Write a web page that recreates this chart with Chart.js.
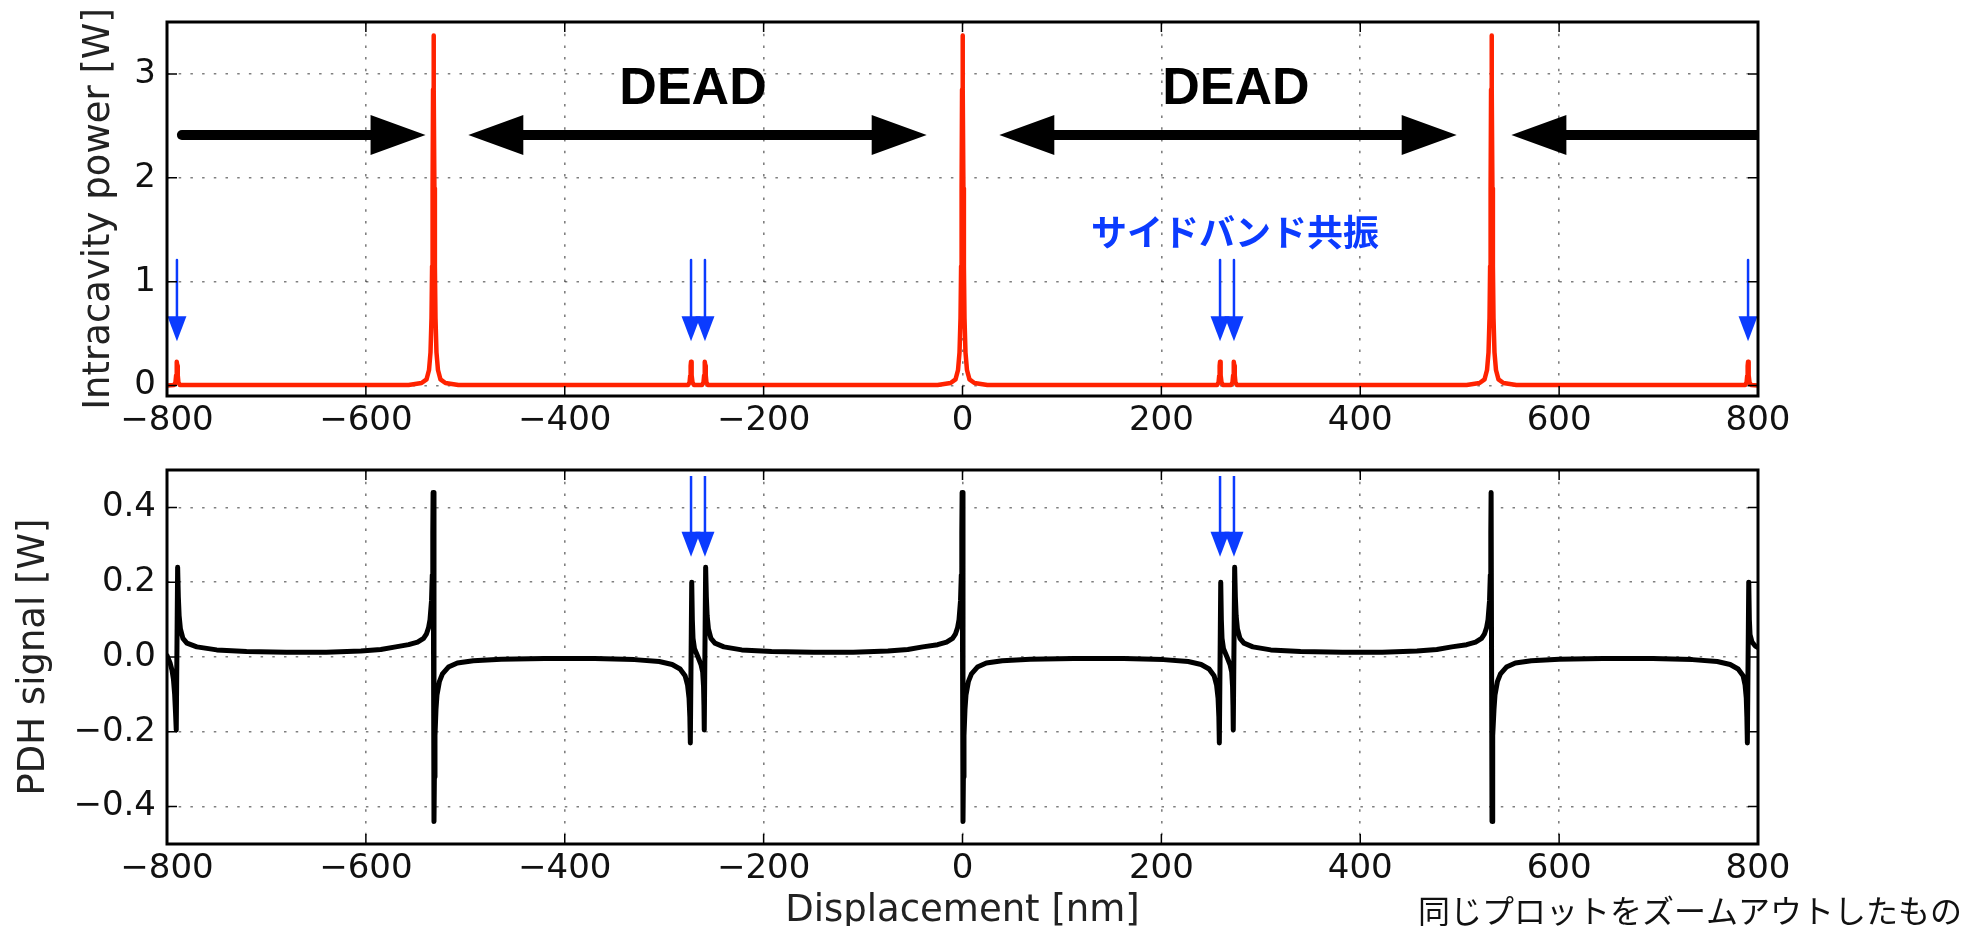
<!DOCTYPE html>
<html>
<head>
<meta charset="utf-8">
<script src="https://cdn.jsdelivr.net/npm/chart.js@4"></script>
<style>
  html, body { margin: 0; padding: 0; background: #fff; overflow: hidden; }
  body { width: 1969px; height: 926px; position: relative; }
  canvas { position: absolute; left: 0; }
  #powerChart { top: 0; }
  #pdhChart { top: 460px; }
</style>
</head>
<body>
<canvas id="powerChart" width="1969" height="460"></canvas>
<canvas id="pdhChart" width="1969" height="520"></canvas>
<script>
// axis ticks
const xTicks = [-800, -600, -400, -200, 0, 200, 400, 600, 800];
const xTickLabels = ['−800', '−600', '−400', '−200', '0', '200', '400', '600', '800'];
const powerTicks = [0, 1, 2, 3];
const powerTickLabels = ['0', '1', '2', '3'];
const pdhTicks = [-0.4, -0.2, 0, 0.2, 0.4];
const pdhTickLabels = ['−0.4', '−0.2', '0.0', '0.2', '0.4'];

// intracavity power [W] vs displacement [nm]
const powerCurve = [
  [-800, 0.002],
  [-793, 0.005], [-791.5, 0.03], [-790.8, 0.1], [-790.4, 0.19], [-790, 0.23], [-789.6, 0.19], [-789.2, 0.1], [-788.5, 0.03], [-787, 0.005],
  [-557, 0.006], [-544, 0.025], [-539, 0.06], [-536.5, 0.15], [-535, 0.32], [-534, 0.65], [-533.4, 1.15], [-532.9, 1.9], [-532.45, 2.85],
  [-532, 3.37],
  [-531.55, 2.85], [-531.1, 1.9], [-530.6, 1.15], [-530, 0.65], [-529, 0.32], [-527.5, 0.15], [-525, 0.06], [-520, 0.025], [-507, 0.006],
  [-276, 0.005], [-274.5, 0.03], [-273.8, 0.1], [-273.4, 0.19], [-273, 0.23], [-272.6, 0.19], [-272.2, 0.1], [-271.5, 0.03], [-270, 0.005],
  [-262, 0.005], [-260.5, 0.03], [-259.8, 0.1], [-259.4, 0.19], [-259, 0.23], [-258.6, 0.19], [-258.2, 0.1], [-257.5, 0.03], [-256, 0.005],
  [-25, 0.006], [-12, 0.025], [-7, 0.06], [-4.5, 0.15], [-3, 0.32], [-2, 0.65], [-1.4, 1.15], [-0.9, 1.9], [-0.45, 2.85],
  [0, 3.37],
  [0.45, 2.85], [0.9, 1.9], [1.4, 1.15], [2, 0.65], [3, 0.32], [4.5, 0.15], [7, 0.06], [12, 0.025], [25, 0.006],
  [256, 0.005], [257.5, 0.03], [258.2, 0.1], [258.6, 0.19], [259, 0.23], [259.4, 0.19], [259.8, 0.1], [260.5, 0.03], [262, 0.005],
  [270, 0.005], [271.5, 0.03], [272.2, 0.1], [272.6, 0.19], [273, 0.23], [273.4, 0.19], [273.8, 0.1], [274.5, 0.03], [276, 0.005],
  [507, 0.006], [520, 0.025], [525, 0.06], [527.5, 0.15], [529, 0.32], [530, 0.65], [530.6, 1.15], [531.1, 1.9], [531.55, 2.85],
  [532, 3.37],
  [532.45, 2.85], [532.9, 1.9], [533.4, 1.15], [534, 0.65], [535, 0.32], [536.5, 0.15], [539, 0.06], [544, 0.025], [557, 0.006],
  [787, 0.005], [788.5, 0.03], [789.2, 0.1], [789.6, 0.19], [790, 0.23], [790.4, 0.19], [790.8, 0.1], [791.5, 0.03], [793, 0.005],
  [800, 0.002]
];

// PDH error signal [W] vs displacement [nm]
const pdhCurve = [
  [-800, 0.004], [-797, -0.015], [-795, -0.035], [-793.5, -0.06], [-792.3, -0.1], [-791.4, -0.15], [-790.7, -0.195],
  [-789.3, 0.24], [-788.6, 0.16], [-787.8, 0.11], [-786.5, 0.075], [-784, 0.05], [-780, 0.037], [-770, 0.027], [-750, 0.019],
  [-720, 0.015], [-680, 0.013], [-640, 0.013], [-605, 0.016], [-585, 0.02], [-570, 0.027],
  [-557, 0.033], [-548, 0.04], [-542, 0.05], [-539, 0.062], [-537, 0.078], [-535.5, 0.1], [-534, 0.15], [-533.2, 0.22], [-532.7, 0.33], [-532.4, 0.44],
  [-531.5, -0.44], [-531.1, -0.32], [-530.5, -0.21], [-529.5, -0.14], [-528.5, -0.102], [-526, -0.065], [-523, -0.045], [-517, -0.027],
  [-508, -0.016], [-492, -0.01], [-464, -0.006], [-420, -0.004], [-370, -0.004], [-330, -0.007], [-305, -0.012], [-292, -0.02],
  [-284, -0.032], [-279, -0.05], [-276.5, -0.075], [-275, -0.11], [-274.2, -0.16], [-273.7, -0.23],
  [-272.3, 0.2], [-271.7, 0.1], [-271, 0.05], [-269.5, 0.022], [-266, 0.0], [-263, -0.02], [-261.3, -0.04], [-260.4, -0.08], [-260, -0.13], [-259.7, -0.195],
  [-258.3, 0.24], [-257.6, 0.16], [-256.8, 0.11], [-255.5, 0.075], [-253, 0.05], [-249, 0.037], [-240, 0.027], [-222, 0.019],
  [-192, 0.015], [-150, 0.013], [-110, 0.013], [-75, 0.016], [-55, 0.02], [-40, 0.027],
  [-25, 0.033], [-16, 0.04], [-10, 0.05], [-7, 0.062], [-5, 0.078], [-3.5, 0.1], [-2, 0.15], [-1.2, 0.22], [-0.7, 0.33], [-0.4, 0.44],
  [0.5, -0.44], [0.9, -0.32], [1.5, -0.21], [2.5, -0.14], [3.5, -0.102], [6, -0.065], [9, -0.045], [15, -0.027],
  [24, -0.016], [40, -0.01], [68, -0.006], [112, -0.004], [162, -0.004], [202, -0.007], [227, -0.012], [240, -0.02],
  [248, -0.032], [253, -0.05], [255.5, -0.075], [257, -0.11], [257.8, -0.16], [258.3, -0.23],
  [259.7, 0.2], [260.3, 0.1], [261, 0.05], [262.5, 0.022], [266, 0.0], [269, -0.02], [270.7, -0.04], [271.6, -0.08], [272, -0.13], [272.3, -0.195],
  [273.7, 0.24], [274.4, 0.16], [275.2, 0.11], [276.5, 0.075], [279, 0.05], [283, 0.037], [292, 0.027], [310, 0.019],
  [340, 0.015], [382, 0.013], [422, 0.013], [457, 0.016], [477, 0.02], [492, 0.027],
  [507, 0.033], [516, 0.04], [522, 0.05], [525, 0.062], [527, 0.078], [528.5, 0.1], [530, 0.15], [530.8, 0.22], [531.3, 0.33], [531.6, 0.44],
  [532.5, -0.44], [532.9, -0.32], [533.5, -0.21], [534.5, -0.14], [535.5, -0.102], [538, -0.065], [541, -0.045], [547, -0.027],
  [556, -0.016], [572, -0.01], [600, -0.006], [644, -0.004], [694, -0.004], [734, -0.007], [759, -0.012], [772, -0.02],
  [780, -0.032], [785, -0.05], [787, -0.075], [788.2, -0.11], [788.8, -0.16], [789.3, -0.23],
  [790.7, 0.2], [791.3, 0.1], [792, 0.06], [794, 0.04], [797, 0.03], [800, 0.025]
];

// annotation positions (data units)
const sidebandMarksPower = [-790, -273, -259, 259, 273, 790];
const sidebandMarksPdh = [-273, -259, 259, 273];
const captureArrows = [[-785, -540], [820, 552]];   // [tail, tip]
const deadArrows = [[-497, -36], [37, 497]];        // double headed
const deadLabelX = [-271, 275];

const FONT = 'DejaVu Sans';
const BLUE = '#0b3bff';
Chart.defaults.font.family = FONT;

function head(ctx, tx, ty, dx, dy, len, half) {
  // triangle with its tip at (tx, ty), pointing along (dx, dy)
  const bx = tx - dx * len, by = ty - dy * len;
  ctx.beginPath();
  ctx.moveTo(tx, ty);
  ctx.lineTo(bx - dy * half, by + dx * half);
  ctx.lineTo(bx + dy * half, by - dx * half);
  ctx.closePath();
  ctx.fill();
}

function clipArea(ctx, a) {
  ctx.beginPath();
  ctx.rect(a.left, a.top, a.right - a.left, a.bottom - a.top);
  ctx.clip();
}

function blueMarks(chart, xs, yFrom, yTip) {
  const {ctx, scales: {x, y}} = chart;
  const y0 = y.getPixelForValue(yFrom), y1 = y.getPixelForValue(yTip);
  ctx.strokeStyle = BLUE;
  ctx.fillStyle = BLUE;
  ctx.lineWidth = 2.5;
  xs.forEach(v => {
    const px = x.getPixelForValue(v);
    ctx.beginPath();
    ctx.moveTo(px, y0);
    ctx.lineTo(px, y1 - 20);
    ctx.stroke();
    head(ctx, px, y1, 0, 1, 25, 9.5);
  });
}

// box frame plus inward tick marks on all four sides
const framePlugin = {
  id: 'frame',
  afterDraw(chart) {
    const {ctx, chartArea: a, scales} = chart;
    ctx.save();
    ctx.strokeStyle = '#000';
    ctx.lineWidth = 1.5;
    ctx.beginPath();
    scales.x.ticks.forEach(t => {
      const px = scales.x.getPixelForValue(t.value);
      ctx.moveTo(px, a.bottom); ctx.lineTo(px, a.bottom - 10);
      ctx.moveTo(px, a.top); ctx.lineTo(px, a.top + 10);
    });
    scales.y.ticks.forEach(t => {
      const py = scales.y.getPixelForValue(t.value);
      ctx.moveTo(a.left, py); ctx.lineTo(a.left + 10, py);
      ctx.moveTo(a.right, py); ctx.lineTo(a.right - 10, py);
    });
    ctx.stroke();
    ctx.lineWidth = 3;
    ctx.strokeRect(a.left, a.top, a.right - a.left, a.bottom - a.top);
    ctx.restore();
  }
};

const powerNotes = {
  id: 'powerNotes',
  afterDatasetsDraw(chart) {
    const {ctx, chartArea: a, scales: {x, y}} = chart;
    ctx.save();
    clipArea(ctx, a);
    const ay = y.getPixelForValue(2.412);
    ctx.fillStyle = '#000';
    ctx.strokeStyle = '#000';
    ctx.lineWidth = 10;
    ctx.lineCap = 'round';
    captureArrows.forEach(([from, to]) => {
      const x0 = x.getPixelForValue(from), x1 = x.getPixelForValue(to);
      const dir = Math.sign(x1 - x0);
      ctx.beginPath();
      ctx.moveTo(x0, ay);
      ctx.lineTo(x1 - dir * 50, ay);
      ctx.stroke();
      head(ctx, x1, ay, dir, 0, 55, 20);
    });
    deadArrows.forEach(([from, to]) => {
      const x0 = x.getPixelForValue(from), x1 = x.getPixelForValue(to);
      ctx.beginPath();
      ctx.moveTo(x0 + 50, ay);
      ctx.lineTo(x1 - 50, ay);
      ctx.stroke();
      head(ctx, x0, ay, -1, 0, 55, 20);
      head(ctx, x1, ay, 1, 0, 55, 20);
    });
    ctx.font = 'bold 52px "Liberation Sans"';
    ctx.textAlign = 'center';
    ctx.textBaseline = 'middle';
    deadLabelX.forEach(v => ctx.fillText('DEAD', x.getPixelForValue(v), y.getPixelForValue(2.845)));

    blueMarks(chart, sidebandMarksPower, 1.209, 0.428);
    ctx.fillStyle = BLUE;
    ctx.font = 'bold 36px "Noto Sans CJK JP"';
    ctx.fillText('サイドバンド共振', x.getPixelForValue(274), y.getPixelForValue(1.48));
    ctx.restore();
  }
};

const pdhNotes = {
  id: 'pdhNotes',
  afterDatasetsDraw(chart) {
    const {ctx, chartArea: a} = chart;
    ctx.save();
    clipArea(ctx, a);
    blueMarks(chart, sidebandMarksPdh, 0.484, 0.268);
    ctx.restore();
  },
  afterDraw(chart) {
    const ctx = chart.ctx;
    ctx.save();
    ctx.fillStyle = '#111';
    ctx.font = '32px "Noto Sans CJK JP"';
    ctx.textAlign = 'left';
    ctx.textBaseline = 'alphabetic';
    ctx.fillText('同じプロットをズームアウトしたもの', 1418, 463);
    ctx.restore();
  }
};

function xAxis(height, title) {
  return {
    type: 'linear',
    min: -800,
    max: 800,
    afterBuildTicks: s => { s.ticks = xTicks.map(v => ({ value: v })); },
    afterFit: s => { s.height = height; s.paddingLeft = 0; s.paddingRight = 0; },
    ticks: {
      padding: 5,
      autoSkip: false,
      maxRotation: 0,
      color: '#111',
      font: { size: 34 },
      callback: (v, i) => xTickLabels[i]
    },
    grid: { color: 'rgba(0,0,0,0.5)', lineWidth: 1.6, drawTicks: false },
    border: { display: false, dash: [2.5, 9.2] },
    title: title ? {
      display: true,
      text: title,
      color: '#222',
      font: { size: 37 },
      padding: { top: 0, bottom: 46.8 }
    } : { display: false }
  };
}

function yAxis(min, max, ticks, labels, title, titleOffset) {
  return {
    type: 'linear',
    min: min,
    max: max,
    afterBuildTicks: s => { s.ticks = ticks.map(v => ({ value: v })); },
    afterFit: s => { s.width = 167; s.paddingTop = 0; s.paddingBottom = 0; },
    ticks: {
      padding: 11,
      color: '#111',
      font: { size: 34 },
      callback: (v, i) => labels[i]
    },
    grid: { color: 'rgba(0,0,0,0.5)', lineWidth: 1.6, drawTicks: false },
    border: { display: false, dash: [2.5, 9.2] },
    title: {
      display: true,
      text: title,
      color: '#222',
      font: { size: 37 },
      padding: { top: titleOffset, bottom: 0 }
    }
  };
}

const commonOptions = {
  responsive: false,
  animation: false,
  events: [],
  plugins: { legend: { display: false }, tooltip: { enabled: false } }
};

new Chart(document.getElementById('powerChart'), {
  type: 'line',
  data: {
    datasets: [{
      data: powerCurve.map(([x, y]) => ({ x, y })),
      borderColor: '#ff2200',
      borderWidth: 4.5,
      borderJoinStyle: 'round',
      borderCapStyle: 'round',
      pointRadius: 0,
      tension: 0,
      fill: false
    }]
  },
  options: {
    ...commonOptions,
    layout: { padding: { top: 22, right: 211, bottom: 0, left: 0 } },
    scales: {
      x: xAxis(64, null),
      y: yAxis(-0.1, 3.5, powerTicks, powerTickLabels, 'Intracavity power [W]', 77.3)
    }
  },
  plugins: [powerNotes, framePlugin]
});

new Chart(document.getElementById('pdhChart'), {
  type: 'line',
  data: {
    datasets: [{
      data: pdhCurve.map(([x, y]) => ({ x, y })),
      borderColor: '#000',
      borderWidth: 5,
      borderJoinStyle: 'round',
      borderCapStyle: 'round',
      pointRadius: 0,
      tension: 0,
      fill: false
    }]
  },
  options: {
    ...commonOptions,
    layout: { padding: { top: 10, right: 211, bottom: 0, left: 0 } },
    scales: {
      x: xAxis(136, 'Displacement [nm]'),
      y: yAxis(-0.5, 0.5, pdhTicks, pdhTickLabels, 'PDH signal [W]', 11.8)
    }
  },
  plugins: [pdhNotes, framePlugin]
});
</script>
</body>
</html>
